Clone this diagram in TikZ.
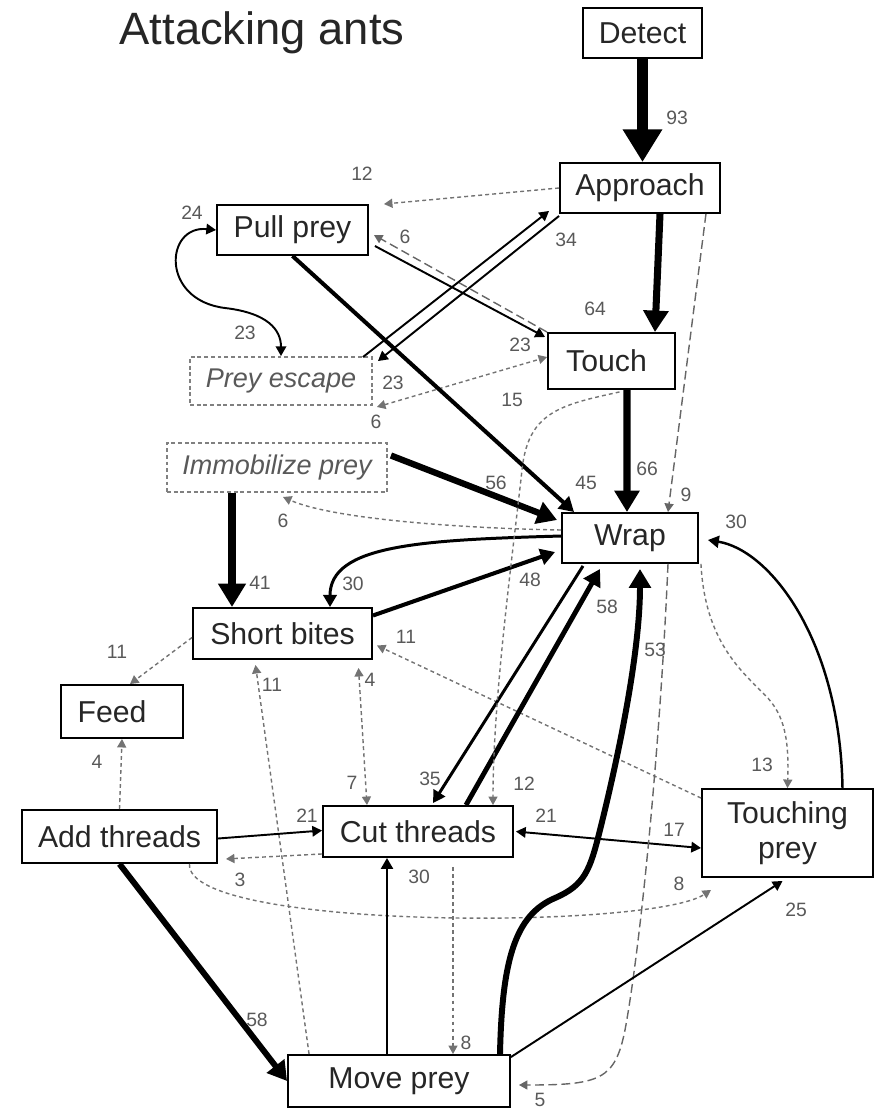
\documentclass[tikz,border=0pt]{standalone}
\usepackage{fontspec}
\setmainfont{Liberation Sans}
\usetikzlibrary{arrows.meta,calc}

\newcommand{\statefont}{\fontsize{17.2}{20}\selectfont}
\newcommand{\rarefont}{\fontsize{15.4}{18}\selectfont\itshape}
\newcommand{\countfont}{\fontsize{11}{13}\selectfont}
\newcommand{\titlefont}{\fontsize{25.8}{30}\selectfont}

\tikzset{
  state/.style={draw, line width=1.1pt, text=black!85, font=\statefont, inner sep=0pt},
  rare state/.style={state, draw=black!50, dash pattern=on 2.2pt off 1.6pt, font=\rarefont, text=black!65},
  flow/.style={->, line width=#1},
  rare/.style={->, line width=0.8pt, draw=black!55, dash pattern=on 2.2pt off 1.8pt},
  rare long/.style={->, line width=0.8pt, draw=black!60, dash pattern=on 5pt off 2.5pt},
  count/.style={font=\countfont, text=black!65, inner sep=0pt},
}

\begin{document}
\begin{tikzpicture}[x=0.02cm, y=-0.02cm, >={Triangle[length=3pt 2.3, width=3pt 2.7]}]
                \useasboundingbox (0,0) rectangle (877,1110);

                % Title
                \node[font=\titlefont, text=black!85] (title) at (262,33) {Attacking ants};

                % Behaviour states
                \node[state, minimum width=2.38cm, minimum height=1cm] (detect) at (642.5,33) {Detect};
                \node[state, minimum width=3.2cm, minimum height=1cm] (approach) at (640,188) {Approach};
                \node[state, minimum width=3.02cm, minimum height=1cm] (pull) at (292.5,230) {Pull prey};
                \node[state, minimum width=2.54cm, minimum height=1.12cm] (touch) at (611.5,361) {Touch\hspace*{0.2cm}};
                \node[rare state, minimum width=3.64cm, minimum height=0.96cm] (escape) at (281,381) {Prey escape};
                \node[rare state, minimum width=4.4cm, minimum height=0.98cm] (immob) at (277,467.5) {Immobilize prey};
                \node[state, minimum width=2.72cm, minimum height=1cm] (wrap) at (630,538) {Wrap};
                \node[state, minimum width=3.58cm, minimum height=1.02cm] (bites) at (282.5,633.5) {Short bites};
                \node[state, minimum width=2.44cm, minimum height=1.06cm] (feed) at (122,711.5) {Feed\hspace*{0.4cm}};
                \node[state, minimum width=3.9cm, minimum height=1.06cm] (addthr) at (119.5,836.5) {Add threads};
                \node[state, minimum width=3.8cm, minimum height=1.02cm] (cutthr) at (418,831.5) {Cut threads};
                \node[state, minimum width=3.42cm, minimum height=1.76cm, align=center] (touching) at (787.5,833) {Touching\\prey};
                \node[state, minimum width=4.44cm, minimum height=1.04cm] (move) at (399,1081) {Move prey};

                % Detect, approach and touch
                \draw[flow=6.8pt] (detect.south) -- (detect.south |- approach.north);
                \draw[flow=4pt] ($(approach.south)+(20,0)$) -- ($(touch.north)+(43.5,0)$);
                \draw[rare] (approach.west) -- ($(pull.north east)+(15,0)$);
                \draw[flow=1.1pt] ($(pull.east)+(6,16)$) -- ($(touch.west)+(-2,-24)$);
                \draw[rare long] (touch.north west) -- ($(pull.east)+(5,5)$);

                % Prey escape
                \draw[flow=1.1pt, <->] (pull.west) .. controls (165,225) and (160,300) .. (225,308)
                      .. controls (268,313) and (281,330) .. (escape.north);
                \draw[flow=1.1pt] ($(escape.north east)+(-10,1)$) -- ($(approach.south west)+(-10,-3)$);
                \draw[flow=1.1pt] ($(approach.south west)+(0,2)$) -- ($(escape.north east)+(5,5)$);
                \draw[rare, <->] ($(escape.south east)+(4,1)$) -- ($(touch.west)+(0,-4)$);

                % Into wrap
                \draw[flow=2.3pt] (pull.south) -- ($(wrap.north west)+(13,0)$);
                \draw[flow=4pt] ($(touch.south)+(15.5,0)$) -- ($(wrap.north)+(-3,0)$);
                \draw[rare long] ($(approach.south east)+(-15,0)$) -- ($(wrap.north)+(38,0)$);
                \draw[flow=3.6pt] ($(immob.east)+(3,-12)$) -- ($(wrap.west)+(-4,-18)$);
                \draw[rare] ($(wrap.west)+(0,-8)$) .. controls (450,528) and (330,518) .. ($(immob.south)+(6,4)$);

                % Short bites
                \draw[flow=1.7pt] ($(wrap.west)+(0,-2)$) .. controls (420,540) and (330,545) .. ($(bites.north)+(47.5,0)$);
                \draw[flow=2.3pt] ($(bites.east)+(0,-18)$) -- ($(wrap.west)+(-6,14)$);
                \draw[flow=4.5pt] ($(immob.south)+(-45,0)$) -- ($(bites.north)+(-50.5,0)$);
                \draw[rare] ($(bites.west)+(0,4)$) -- ($(feed.north)+(8,0)$);
                \draw[rare] (addthr.north) -- (feed.south);
                \draw[rare] ($(move.north west)+(22,0)$) -- ($(bites.south)+(-27,5)$);
                \draw[rare, <->] ($(bites.south)+(76,8)$) -- ($(cutthr.north)+(-51,0)$);
                \draw[rare] ($(touching.north west)+(0,10)$) -- ($(bites.east)+(4,12)$);

                % Threads
                \draw[flow=1.1pt] ($(addthr.east)+(0,2)$) -- ($(cutthr.west)+(0,-1)$);
                \draw[rare] ($(cutthr.south west)+(0,-4)$) -- ($(addthr.south east)+(8,-5)$);
                \draw[rare] ($(addthr.south)+(70,0)$) .. controls (185,930) and (650,930) .. ($(touching.south west)+(10,12)$);
                \draw[flow=2.8pt] ($(cutthr.north)+(48,0)$) -- ($(wrap.south)+(-30,5)$);
                \draw[flow=1.7pt] ($(wrap.south)+(-47,2)$) -- ($(cutthr.north)+(15,-2)$);
                \draw[rare] ($(touch.south)+(8,2)$) .. controls (560,405) and (528,412) .. (522,470)
                      .. controls (512,560) and (493,700) .. ($(cutthr.north)+(75,0)$);
                \draw[flow=1.1pt, <->] ($(cutthr.east)+(2,0)$) -- ($(touching.west)+(0,15)$);

                % Move prey
                \draw[flow=1.4pt] ($(move.north)+(-12,0)$) -- ($(cutthr.south)+(-31,0)$);
                \draw[rare] ($(cutthr.south)+(35,9)$) -- ($(move.north)+(54,0)$);
                \draw[flow=3.4pt] (addthr.south) -- (move.west);
                \draw[flow=3.4pt] ($(move.north)+(101,0)$) .. controls (502,960) and (515,915) .. (555,898)
                      .. controls (585,885) and (590,870) .. (600,830)
                      .. controls (620,750) and (640,650) .. ($(wrap.south)+(10,5)$);
                \draw[rare long] ($(wrap.south)+(38,0)$) .. controls (660,750) and (640,950) .. (625,1030)
                      .. controls (615,1080) and (600,1085) .. ($(move.east)+(8,4)$);
                \draw[flow=1.1pt] ($(move.north east)+(0,3)$) -- ($(touching.south)+(-5,3)$);

                % Touching prey
                \draw[rare] ($(wrap.south east)+(2,0)$) .. controls (705,640) and (740,670) .. (765,695)
                      .. controls (785,715) and (789,740) .. (touching.north);
                \draw[flow=1.4pt] ($(touching.north)+(55,0)$) .. controls (840,640) and (770,550) .. ($(wrap.east)+(9,2)$);

                % Counts
                \node[count] (c93) at (677,118) {93};
                \node[count] (c12a) at (362,174) {12};
                \node[count] (c24) at (192,213) {24};
                \node[count] (c6a) at (405,237) {6};
                \node[count] (c34) at (566,240) {34};
                \node[count] (c64) at (595,309) {64};
                \node[count] (c23a) at (245,333) {23};
                \node[count] (c23b) at (520,345) {23};
                \node[count] (c23c) at (393,383) {23};
                \node[count] (c15) at (512,400) {15};
                \node[count] (c6b) at (376,422) {6};
                \node[count] (c56) at (496,483) {56};
                \node[count] (c45) at (586,483) {45};
                \node[count] (c66) at (647,469) {66};
                \node[count] (c9) at (686,495) {9};
                \node[count] (c30a) at (736,522) {30};
                \node[count] (c6c) at (283,521) {6};
                \node[count] (c41) at (260,583) {41};
                \node[count] (c30b) at (353,584) {30};
                \node[count] (c48) at (530,580) {48};
                \node[count] (c58a) at (607,607) {58};
                \node[count] (c53) at (655,650) {53};
                \node[count] (c11a) at (117,652) {11};
                \node[count] (c11b) at (406,637) {11};
                \node[count] (c11c) at (272,685) {11};
                \node[count] (c4a) at (370,680) {4};
                \node[count] (c4b) at (97,762) {4};
                \node[count] (c13) at (762,765) {13};
                \node[count] (c7) at (352,783) {7};
                \node[count] (c35) at (430,779) {35};
                \node[count] (c12b) at (524,784) {12};
                \node[count] (c21a) at (307,816) {21};
                \node[count] (c21b) at (546,816) {21};
                \node[count] (c17) at (674,830) {17};
                \node[count] (c3) at (240,880) {3};
                \node[count] (c30c) at (419,877) {30};
                \node[count] (c8a) at (679,884) {8};
                \node[count] (c25) at (796,910) {25};
                \node[count] (c58b) at (257,1020) {58};
                \node[count] (c8b) at (466,1043) {8};
                \node[count] (c5) at (540,1100) {5};
\end{tikzpicture}
\end{document}
